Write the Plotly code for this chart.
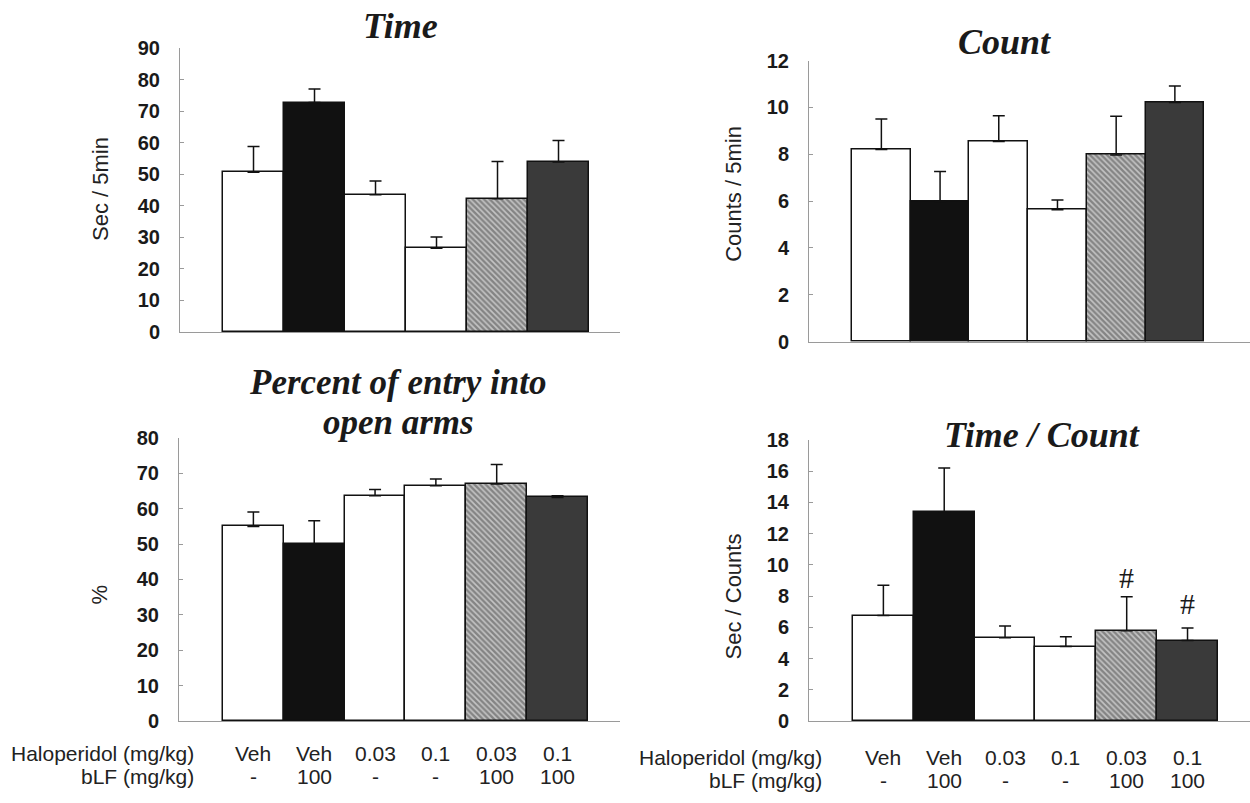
import plotly.graph_objects as go

# Group labels (x order is shared by all four panels)
haloperidol = ["Veh", "Veh", "0.03", "0.1", "0.03", "0.1"]
blf = ["-", "100", "-", "-", "100", "100"]
groups = list(range(6))

# Time spent in open arms (sec / 5 min)
time_mean = [50.6, 72.7, 43.5, 26.5, 42.2, 53.9]
time_sem = [8.2, 4.3, 4.3, 3.6, 11.8, 6.8]

# Number of entries (counts / 5 min)
count_mean = [8.21, 5.99, 8.55, 5.63, 7.97, 10.21]
count_sem = [1.30, 1.28, 1.10, 0.42, 1.65, 0.71]

# Percent of entries into open arms
pct_mean = [55.0, 50.0, 63.7, 66.5, 67.0, 63.2]
pct_sem = [4.1, 6.6, 1.7, 1.9, 5.5, 0.5]

# Time per entry (sec / counts)
tc_mean = [6.75, 13.4, 5.33, 4.77, 5.78, 5.15]
tc_sem = [1.95, 2.8, 0.75, 0.63, 2.17, 0.80]

# '#' marks on the Time / Count panel
hash_groups = [4, 5]
hash_y = [9.2, 7.5]

W, H = 1250, 803

fill_colors = ["#ffffff", "#111111", "#ffffff", "#ffffff", "#c4c4c4", "#3a3a3a"]
pattern_shapes = ["", "", "", "", "\\", ""]

def px_x(p):
    return p / W

def px_y(p):
    return 1 - p / H

panels = [
    # (xaxis id, yaxis id, means, sems, x domain px, y domain px (bottom, top), x range, y range, dtick)
    ("x", "y", time_mean, time_sem, (180, 620), (330, 38), (-1.205, 6.008), (0, 90), 10),
    ("x2", "y2", count_mean, count_sem, (809, 1250), (340, 51), (-1.233, 6.28), (0, 12), 2),
    ("x3", "y3", pct_mean, pct_sem, (179, 620), (730, 439), (-1.223, 6.027), (0, 80), 10),
    ("x4", "y4", tc_mean, tc_sem, (809, 1250), (730, 441), (-1.223, 6.027), (0, 18), 2),
]

fig = go.Figure()
layout = dict(
    width=W, height=H,
    margin=dict(l=0, r=0, t=0, b=0),
    paper_bgcolor="white", plot_bgcolor="white",
    showlegend=False, bargap=0,
)

tick_font = dict(family="Liberation Sans", size=20, color="#1a1a1a", weight="bold")

for xa, ya, means, sems, xd, yd, xr, yr, dt in panels:
    fig.add_trace(go.Bar(
        x=groups, y=means, width=1, xaxis=xa, yaxis=ya,
        marker=dict(
            color=fill_colors,
            line=dict(color="#111111", width=1.5),
            pattern=dict(shape=pattern_shapes, fgcolor="#1e1e1e", size=4,
                         solidity=0.6, fillmode="overlay"),
        ),
        error_y=dict(type="data", symmetric=False, array=sems,
                     arrayminus=[0] * len(sems), color="#111111",
                     thickness=1.5, width=6),
    ))
    xkey = "xaxis" + xa[1:]
    ykey = "yaxis" + ya[1:]
    layout[xkey] = dict(
        domain=[px_x(xd[0]), px_x(xd[1])], range=list(xr), anchor=ya,
        showticklabels=False, ticks="", showgrid=False, zeroline=False,
        showline=True, linecolor="#9a9a9a", linewidth=1,
    )
    layout[ykey] = dict(
        domain=[px_y(yd[0]), px_y(yd[1])], range=list(yr), anchor=xa,
        dtick=dt, tick0=0, ticks="inside", ticklen=4, tickcolor="#9a9a9a",
        showgrid=False, zeroline=False, showline=True, linecolor="#9a9a9a",
        linewidth=1, tickfont=tick_font, ticklabelstandoff=15,
    )

fig.update_layout(**layout)

title_font = dict(family="Liberation Serif", size=36, color="#1a1a1a",
                  weight="bold", style="italic")
label_font = dict(family="Liberation Sans", size=21, color="#222222")
axis_title_font = dict(family="Liberation Sans", size=22, color="#222222")

ann = []
# Panel titles (the two-line title is drawn as two stacked lines)
for text, xp, yp, fs in [("Time", 401, 15, 36), ("Count", 1004, 32, 36),
                         ("Percent of entry into", 398, 382, 35),
                         ("open arms", 398, 423, 35), ("Time / Count", 1042, 436, 36)]:
    ann.append(dict(text=text, x=px_x(xp), y=px_y(yp), xref="paper", yref="paper",
                    showarrow=False, font=dict(title_font, size=fs),
                    xanchor="center", yanchor="middle"))

# Y-axis titles
for text, xp, yp in [("Sec / 5min", 101, 183), ("Counts / 5min", 734, 188),
                     ("%", 100, 600), ("Sec / Counts", 734, 602)]:
    ann.append(dict(text=text, x=px_x(xp), y=px_y(yp), xref="paper", yref="paper",
                    showarrow=False, textangle=-90, font=axis_title_font,
                    xanchor="center", yanchor="middle"))

# Group labels under the bottom panels
for xa, head_right, row1, row2 in [("x3", 196, 763, 787), ("x4", 824, 768, 791)]:
    ann.append(dict(text="Haloperidol (mg/kg)", x=px_x(head_right), y=px_y(row1),
                    xref="paper", yref="paper", showarrow=False, font=label_font,
                    xanchor="right", yanchor="middle"))
    ann.append(dict(text="bLF (mg/kg)", x=px_x(head_right), y=px_y(row2),
                    xref="paper", yref="paper", showarrow=False, font=label_font,
                    xanchor="right", yanchor="middle"))
    for g, h, b in zip(groups, haloperidol, blf):
        ann.append(dict(text=h, x=g, y=px_y(row1), xref=xa, yref="paper",
                        showarrow=False, font=label_font, xanchor="center",
                        yanchor="middle"))
        ann.append(dict(text=b, x=g, y=px_y(row2), xref=xa, yref="paper",
                        showarrow=False, font=label_font, xanchor="center",
                        yanchor="middle"))

# Significance marks
for g, yv in zip(hash_groups, hash_y):
    ann.append(dict(text="#", x=g, y=yv, xref="x4", yref="y4", showarrow=False,
                    font=dict(family="Liberation Serif", size=30, color="#1a1a1a"),
                    xanchor="center", yanchor="middle"))

fig.update_layout(annotations=ann)
fig.write_html("out.html")
